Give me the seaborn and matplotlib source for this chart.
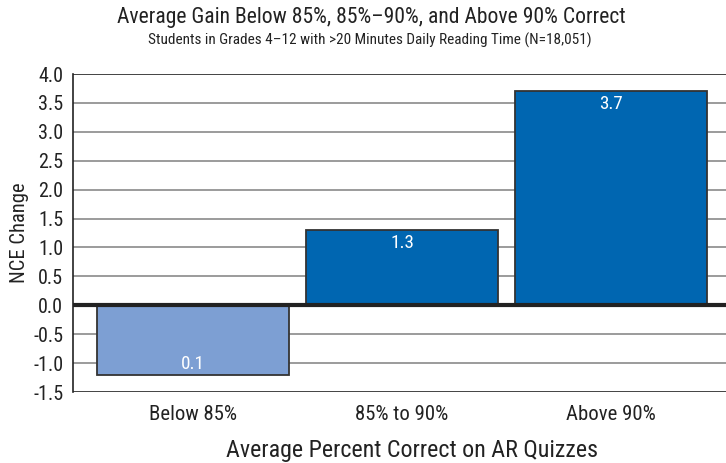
import matplotlib
matplotlib.use("Agg")
import matplotlib.pyplot as plt
import seaborn as sns
import pandas as pd
from matplotlib import font_manager

categories = ["Below 85%", "85% to 90%", "Above 90%"]
values = [-1.2, 1.3, 3.7]
labels = ["0.1", "1.3", "3.7"]
colors = ["#7d9fd3", "#0066b1", "#0066b1"]
yticks = [-1.5, -1.0, -0.5, 0.0, 0.5, 1.0, 1.5, 2.0, 2.5, 3.0, 3.5, 4.0]

sns.set_style("white")

# pick a condensed font if available
fonts = font_manager.fontManager.ttflist
names = {f.name for f in fonts}
fam, stretch = None, "normal"
for cand in ["Liberation Sans Narrow", "Roboto Condensed", "Open Sans Condensed", "Noto Sans Condensed"]:
    if cand in names:
        fam = cand
        break
if fam is None:
    for f in fonts:
        if f.stretch in ("condensed", "semi-condensed", 600, 500) and f.style == "normal" and "Sans" in f.name and "CJK" not in f.name:
            fam, stretch = f.name, f.stretch
            break
if fam is None:
    fam = "Roboto" if "Roboto" in names else "Liberation Sans"
plt.rcParams["font.family"] = [fam, "DejaVu Sans"]
plt.rcParams["font.stretch"] = stretch
TXT = "#222222"
plt.rcParams["text.color"] = TXT

df = pd.DataFrame({"cat": categories, "val": values})

fig = plt.figure(figsize=(7.26, 4.63), dpi=100)
renderer = fig.canvas.get_renderer()

def fit(text, target_px, base=10):
    t = fig.text(0, 0, text, fontsize=base)
    w = t.get_window_extent(renderer).width
    t.remove()
    return base * target_px / w

ax = fig.add_axes([73/726, 1-392/463, 1-73/726, (392-74)/463])

for y in yticks:
    if y == 0.0:
        continue
    ax.axhline(y, color="#8a8a8a" if y not in (4.0, -1.5) else "#222222", lw=1.2, zorder=0)

sns.barplot(data=df, x="cat", y="val", hue="cat", palette=colors, legend=False,
            width=0.92, edgecolor="#333333", linewidth=1.3, saturation=1, ax=ax, zorder=2)
ax.axhline(0, color="#222222", lw=3, zorder=3)

vsize = fit("3.7", 24)
for i, (v, lab) in enumerate(zip(values, labels)):
    if v >= 0:
        ax.text(i, v - 0.07, lab, ha="center", va="top", color="white", fontsize=vsize, zorder=4)
    else:
        ax.text(i, v + 0.02, lab, ha="center", va="bottom", color="white", fontsize=vsize, zorder=4)

ax.set_xlim(-0.575, 2.55)
ax.set_ylim(-1.5, 4.0)
ax.set_yticks(yticks)
ax.set_yticklabels([f"{t:.1f}" for t in yticks], fontsize=fit("4.0", 25), color=TXT)
ax.tick_params(axis="y", length=0, pad=7)
ax.tick_params(axis="x", length=0, pad=9, labelsize=fit("Below 85%", 88), labelcolor=TXT)
for s in ["top", "right", "bottom"]:
    ax.spines[s].set_visible(False)
ax.spines["left"].set_color("#222222")
ax.spines["left"].set_linewidth(1.2)
ax.set_ylabel("NCE Change", fontsize=fit("NCE Change", 100), color=TXT)
ax.yaxis.set_label_coords((29 - 73) / 653, (392 - 233) / 318)
ax.set_xlabel("Average Percent Correct on AR Quizzes", fontsize=fit("Average Percent Correct on AR Quizzes", 369),
              labelpad=11, color=TXT)
ax.xaxis.label.set_x((412 - 73) / 653)

fig.text(371/726, 1-18/463, "Average Gain Below 85%, 85%\u201390%, and Above 90% Correct",
         ha="center", va="center",
         fontsize=fit("Average Gain Below 85%, 85%\u201390%, and Above 90% Correct", 507))
fig.text(370/726, 1-40/463, "Students in Grades 4\u201312 with >20 Minutes Daily Reading Time (N=18,051)",
         ha="center", va="center",
         fontsize=fit("Students in Grades 4\u201312 with >20 Minutes Daily Reading Time (N=18,051)", 441))

fig.savefig("out.png", dpi=100)
